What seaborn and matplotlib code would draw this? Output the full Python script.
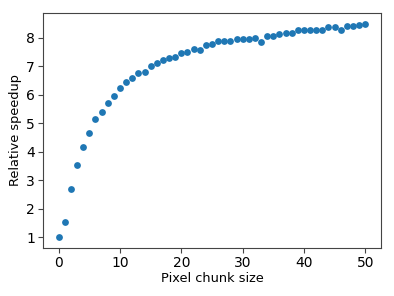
import seaborn as sns
import pandas as pd
import matplotlib.pyplot as plt

chunk_size = list(range(0, 51))
speedup = [1.00, 1.52, 2.69, 3.52, 4.17, 4.66, 5.13, 5.39, 5.72, 5.96,
           6.22, 6.45, 6.57, 6.76, 6.80, 7.02, 7.11, 7.23, 7.29, 7.31,
           7.47, 7.49, 7.60, 7.58, 7.74, 7.77, 7.87, 7.87, 7.90, 7.94,
           7.94, 7.97, 7.98, 7.83, 8.05, 8.05, 8.14, 8.17, 8.17, 8.28,
           8.28, 8.28, 8.28, 8.28, 8.36, 8.36, 8.27, 8.40, 8.40, 8.45,
           8.48]
x_ticks = [0, 10, 20, 30, 40, 50]
y_ticks = [1, 2, 3, 4, 5, 6, 7, 8]

df = pd.DataFrame({'chunk': chunk_size, 'speedup': speedup})

plt.rcParams['font.size'] = 10
plt.rcParams['axes.edgecolor'] = '#444444'
plt.rcParams['xtick.color'] = '#444444'
plt.rcParams['ytick.color'] = '#444444'
plt.rcParams['xtick.labelcolor'] = 'black'
plt.rcParams['ytick.labelcolor'] = 'black'
plt.rcParams['xtick.major.pad'] = 2.5
plt.rcParams['ytick.major.pad'] = 2.5

fig, ax = plt.subplots(figsize=(3.94, 2.96), dpi=100)
sns.scatterplot(x='chunk', y='speedup', data=df, ax=ax,
                color='#1f77b4', s=24, linewidth=0)
ax.set_xlabel('Pixel chunk size', fontsize=9.3, labelpad=1.5)
ax.set_ylabel('Relative speedup', fontsize=9.3, labelpad=3)
ax.set_xticks(x_ticks)
ax.set_yticks(y_ticks)
fig.subplots_adjust(left=0.110, right=0.966, top=0.955, bottom=0.163)
fig.savefig('out.png', dpi=100)
